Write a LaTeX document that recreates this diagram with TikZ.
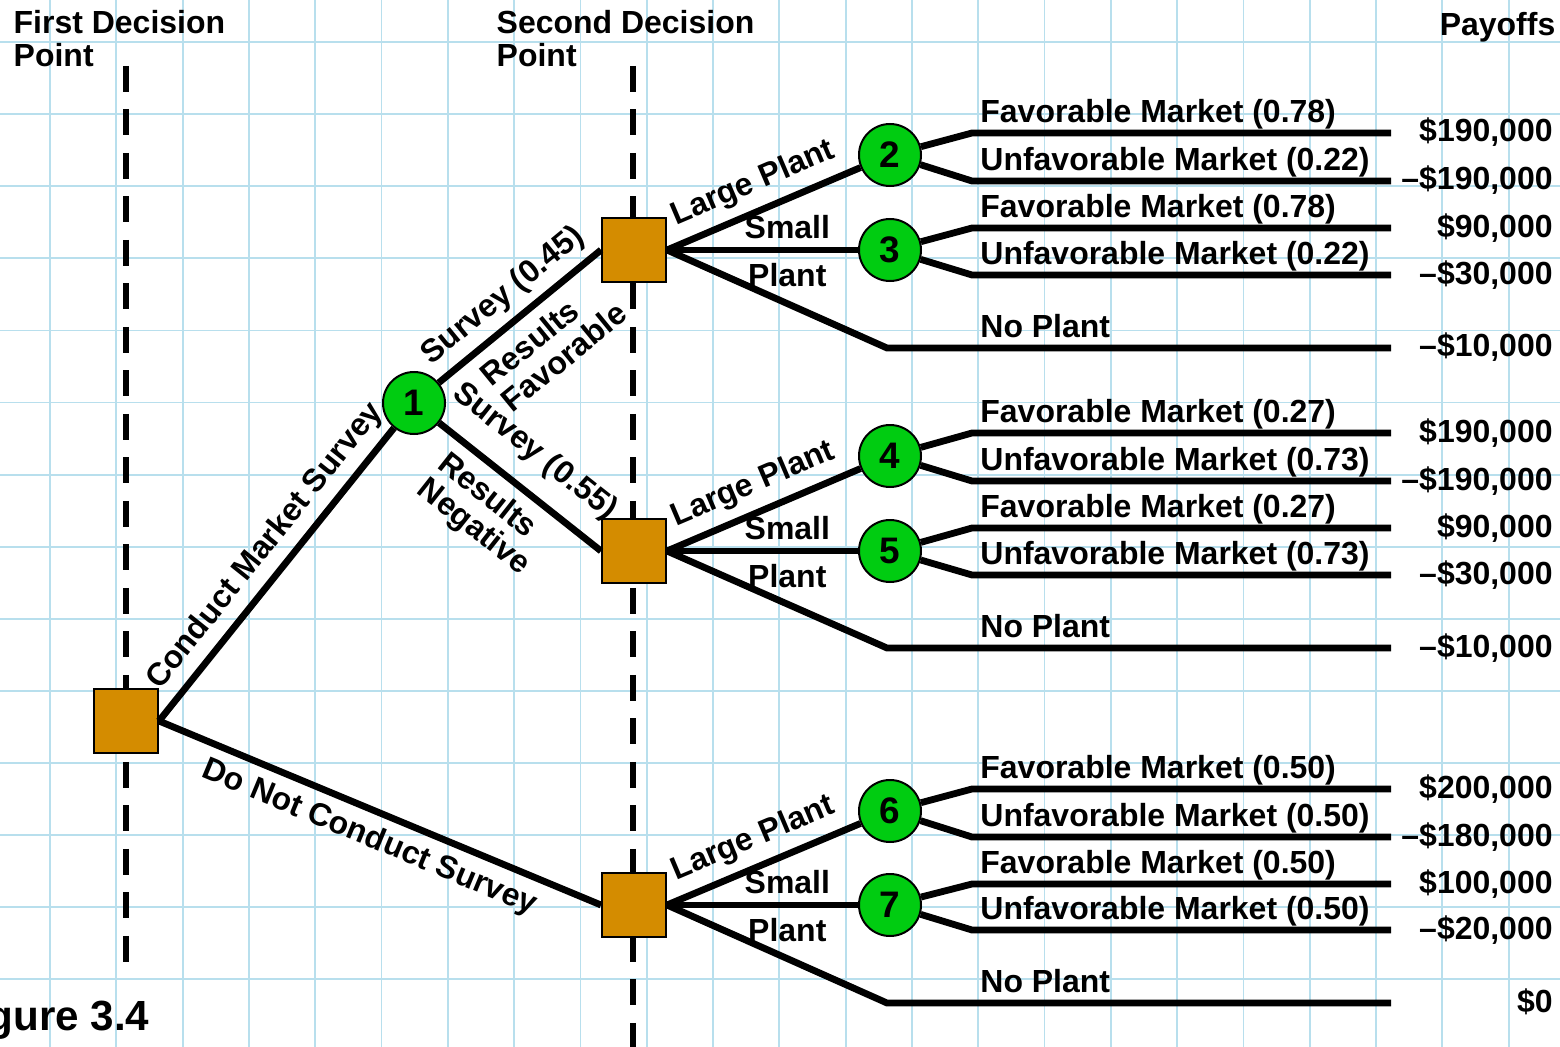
\documentclass[tikz,border=0pt]{standalone}
\usepackage{fontspec}
\setmainfont{Liberation Sans}
\usetikzlibrary{positioning}

\definecolor{gridblue}{RGB}{184,223,237}
\definecolor{boxorange}{RGB}{212,140,0}
\definecolor{nodegreen}{RGB}{0,204,17}

\begin{document}
\begin{tikzpicture}[
    x=0.1mm, y=-0.1mm,
    font=\fontsize{9.1}{9.3}\selectfont\bfseries,
    node distance=3.1mm and 19.1mm,
    % node styles
    decision/.style={rectangle, draw=black, line width=0.2mm, fill=boxorange, minimum size=6.4mm, inner sep=0pt},
    chance/.style={circle, draw=black, line width=0.2mm, fill=nodegreen, minimum size=6.2mm, inner sep=0pt, font=\fontsize{10.5}{10.5}\selectfont\bfseries},
    heading/.style={align=left, inner sep=0pt, anchor=north west},
    branchtext/.style={inner sep=0pt},
    % line styles
    gridline/.style={draw=gridblue, line width=0.18mm},
    stage/.style={line width=0.6mm, dash pattern=on 2.6mm off 1.75mm},
    branch/.style={line width=0.68mm},
    outcome/.style={anchor=base west, inner sep=0pt, xshift=0.5mm, yshift=1.05mm},
    payoff/.style={anchor=base east, inner sep=0pt, xshift=16.5mm, yshift=-0.9mm}
]

\useasboundingbox (0,0) rectangle (1560,1047);
\clip (0,0) rectangle (1560,1047);
\fill[white] (0,0) rectangle (1560,1047);

% --- graph paper ---
\foreach \gx in {0,...,22} \draw[gridline] ({50+66.3*\gx},0) -- ({50+66.3*\gx},1047);
\foreach \gy in {0,...,13} \draw[gridline] (0,{42+72.1*\gy}) -- (1560,{42+72.1*\gy});

% --- decision stages ---
\draw[stage] (126,66) -- (126,975);
\draw[stage] (633,66) -- (633,1047);

% --- headings ---
\node[heading] (first) at (13,10) {First Decision\\Point};
\node[heading] (second) at (496,10) {Second Decision\\Point};
\node[anchor=base east, inner sep=0pt] (payoffs) at (1556,36) {Payoffs};
\node[anchor=base east, inner sep=0pt, font=\fontsize{12}{12}\selectfont\bfseries] (fig) at (150,1030) {Figure 3.4};

% --- decision and chance nodes ---
\node[decision] (sq0) at (126,721) {};
\node[decision] (sqA) at (634,250) {};
\node[decision] (sqB) at (634,551) {};
\node[decision] (sqC) at (634,905) {};
\node[chance] (c1) at (414,403) {1};
\node[chance] (c3) [right=of sqA] {3};
\node[chance] (c2) [above=of c3] {2};
\node[chance] (c5) [right=of sqB] {5};
\node[chance] (c4) [above=of c5] {4};
\node[chance] (c7) [right=of sqC] {7};
\node[chance] (c6) [above=3mm of c7] {6};

% --- end points of the branches ---
\coordinate (bendx) at (972,0);
\coordinate (npx) at (887,0);
\coordinate (t2f) at (1391,133);
\coordinate (t2u) at (1391,181);
\coordinate (t3f) at (1391,228);
\coordinate (t3u) at (1391,275);
\coordinate (tAn) at (1391,348);
\coordinate (t4f) at (1391,433);
\coordinate (t4u) at (1391,481);
\coordinate (t5f) at (1391,528);
\coordinate (t5u) at (1391,575);
\coordinate (tBn) at (1391,648);
\coordinate (t6f) at (1391,789);
\coordinate (t6u) at (1391,837);
\coordinate (t7f) at (1391,884);
\coordinate (t7u) at (1391,930);
\coordinate (tCn) at (1391,1003);

% --- survey or no survey ---
\draw[branch] (sq0.east) -- (c1) node[branchtext, pos=0.54, sloped, above=0.8mm] {Conduct Market Survey};
\draw[branch] (sq0.east) -- (sqC.west) node[branchtext, midway, sloped, below=0.9mm] {Do Not Conduct Survey};

% --- survey results ---
\draw[branch] (c1) -- (sqA.west)
    node[branchtext, midway, sloped, above=0.8mm] {Survey (0.45)}
    node[branchtext, pos=0.54, sloped, below=1.1mm, align=left] {Results\\Favorable};
\draw[branch] (c1) -- (sqB.west)
    node[branchtext, pos=0.45, sloped, above=1.8mm] {Survey (0.55)}
    node[branchtext, pos=0.445, sloped, below=1.0mm, align=left] {Results\\Negative};

% --- favorable survey ---
\draw[branch] (sqA.east) -- (c2) node[branchtext, midway, sloped, above=0.9mm] {Large Plant};
\draw[branch] (sqA.east) -- (c3) node[branchtext, pos=0.63, above=0.75mm] {Small} node[branchtext, pos=0.63, below=1.0mm] {Plant};
\draw[branch] (sqA.east) -- (tAn -| npx) -- (tAn -| bendx) node[outcome] {No Plant} -- (tAn) node[payoff] {\textendash\$10,000};
\draw[branch] (c2) -- (t2f -| bendx) node[outcome] {Favorable Market (0.78)} -- (t2f) node[payoff] {\$190,000};
\draw[branch] (c2) -- (t2u -| bendx) node[outcome] {Unfavorable Market (0.22)} -- (t2u) node[payoff] {\textendash\$190,000};
\draw[branch] (c3) -- (t3f -| bendx) node[outcome] {Favorable Market (0.78)} -- (t3f) node[payoff] {\$90,000};
\draw[branch] (c3) -- (t3u -| bendx) node[outcome] {Unfavorable Market (0.22)} -- (t3u) node[payoff] {\textendash\$30,000};

% --- negative survey ---
\draw[branch] (sqB.east) -- (c4) node[branchtext, midway, sloped, above=0.9mm] {Large Plant};
\draw[branch] (sqB.east) -- (c5) node[branchtext, pos=0.63, above=0.75mm] {Small} node[branchtext, pos=0.63, below=1.0mm] {Plant};
\draw[branch] (sqB.east) -- (tBn -| npx) -- (tBn -| bendx) node[outcome] {No Plant} -- (tBn) node[payoff] {\textendash\$10,000};
\draw[branch] (c4) -- (t4f -| bendx) node[outcome] {Favorable Market (0.27)} -- (t4f) node[payoff] {\$190,000};
\draw[branch] (c4) -- (t4u -| bendx) node[outcome] {Unfavorable Market (0.73)} -- (t4u) node[payoff] {\textendash\$190,000};
\draw[branch] (c5) -- (t5f -| bendx) node[outcome] {Favorable Market (0.27)} -- (t5f) node[payoff] {\$90,000};
\draw[branch] (c5) -- (t5u -| bendx) node[outcome] {Unfavorable Market (0.73)} -- (t5u) node[payoff] {\textendash\$30,000};

% --- no survey ---
\draw[branch] (sqC.east) -- (c6) node[branchtext, midway, sloped, above=0.9mm] {Large Plant};
\draw[branch] (sqC.east) -- (c7) node[branchtext, pos=0.63, above=0.75mm] {Small} node[branchtext, pos=0.63, below=1.0mm] {Plant};
\draw[branch] (sqC.east) -- (tCn -| npx) -- (tCn -| bendx) node[outcome] {No Plant} -- (tCn) node[payoff] {\$0};
\draw[branch] (c6) -- (t6f -| bendx) node[outcome] {Favorable Market (0.50)} -- (t6f) node[payoff] {\$200,000};
\draw[branch] (c6) -- (t6u -| bendx) node[outcome] {Unfavorable Market (0.50)} -- (t6u) node[payoff] {\textendash\$180,000};
\draw[branch] (c7) -- (t7f -| bendx) node[outcome] {Favorable Market (0.50)} -- (t7f) node[payoff] {\$100,000};
\draw[branch] (c7) -- (t7u -| bendx) node[outcome] {Unfavorable Market (0.50)} -- (t7u) node[payoff] {\textendash\$20,000};

\end{tikzpicture}
\end{document}
